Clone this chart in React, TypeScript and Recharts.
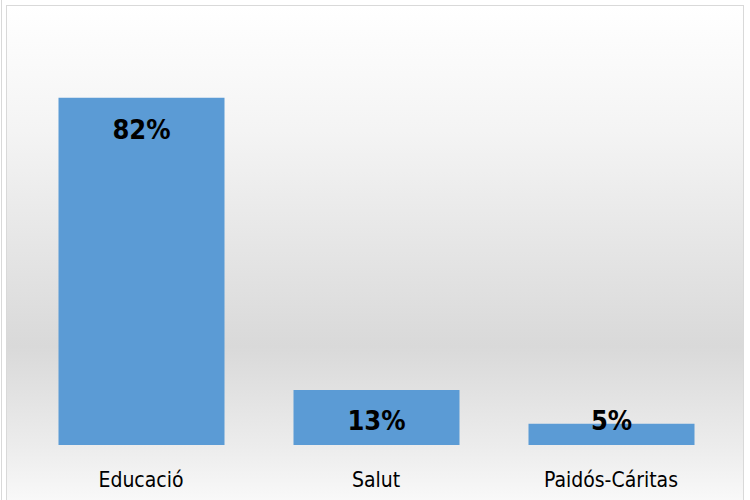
import { Bar, BarChart, LabelList, XAxis, YAxis } from "recharts";

// Share of spending per area (fractions of 1).
const categories = ["Educació", "Salut", "Paidós-Cáritas"];
const shares = [0.82, 0.13, 0.05];

const chartData = categories.map((name, i) => ({ name, share: shares[i] }));

const FONT = "'Liberation Sans Narrow', 'Arial Narrow', 'DejaVu Sans Condensed', sans-serif";

function percent(v: number): string {
  return `${Math.round(v * 100)}%`;
}

/** Value label sits inside the top of the bar, but never lower than near the base. */
function ShareLabel(props: any) {
  const { x, y, width, height, value } = props;
  const baseline = Math.min(y + 41, y + height - 15);
  return (
    <text
      x={x + width / 2}
      y={baseline}
      textAnchor="middle"
      fontFamily={FONT}
      fontWeight="bold"
      fontSize={27}
      fill="#000"
    >
      {percent(value)}
    </text>
  );
}

function CategoryTick(props: any) {
  const { x, y, payload } = props;
  return (
    <text x={x} y={y + 42} textAnchor="middle" fontFamily={FONT} fontSize={21} fill="#000">
      {payload.value}
    </text>
  );
}

export default function App() {
  return (
    <div style={{ position: "fixed", left: 0, top: 0, width: 750, height: 500, overflow: "hidden", background: "#fff" }}>
      <div style={{ position: "absolute", left: 1, top: 0, width: 1, height: 500, background: "#d9d9d9" }} />
      <div
        style={{
          position: "absolute",
          left: 6,
          top: 5,
          width: 736,
          height: 500,
          border: "1px solid #d9d9d9",
          background: "linear-gradient(to bottom, #ffffff 0%, #f4f4f4 25%, #d9d9d9 68%, #ececec 88%, #fafafa 100%)",
        }}
      />
      <div style={{ position: "absolute", left: 0, top: 0 }}>
        <BarChart
          width={750}
          height={500}
          data={chartData}
          margin={{ top: 64, right: 21.5, bottom: 0, left: 23.5 }}
        >
          <XAxis
            dataKey="name"
            axisLine={false}
            tickLine={false}
            tickSize={0}
            tickMargin={0}
            height={55}
            interval={0}
            tick={CategoryTick}
          />
          <YAxis hide domain={[0, 0.9]} />
          <Bar dataKey="share" fill="#5b9bd5" barSize={166} isAnimationActive={false}>
            <LabelList dataKey="share" content={ShareLabel} />
          </Bar>
        </BarChart>
      </div>
    </div>
  );
}
